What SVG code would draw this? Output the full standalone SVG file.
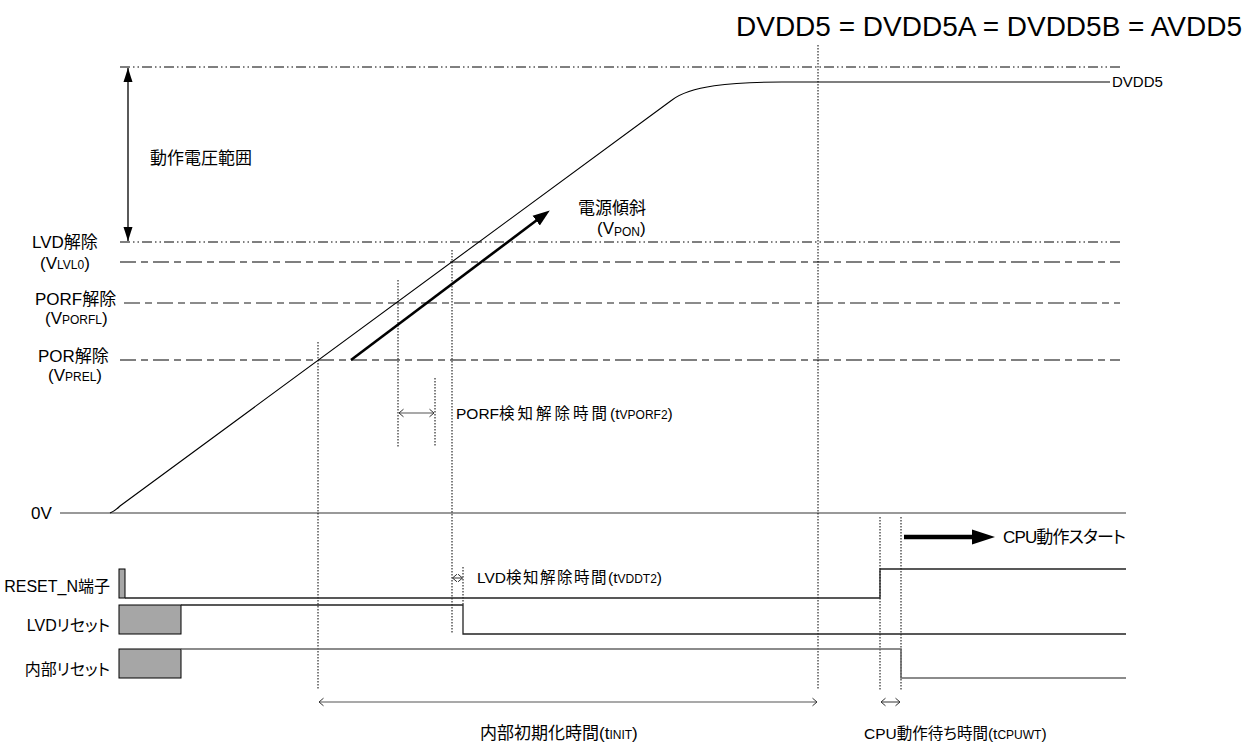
<svg xmlns="http://www.w3.org/2000/svg" width="1246" height="743" viewBox="0 0 1246 743">
<style>
text{font-family:"Liberation Sans","Noto Sans CJK JP",sans-serif;fill:#000;font-feature-settings:"palt"}
.lbl{font-size:17px}
.tl{font-size:15.5px}
.sg{font-size:16px}
.sub{font-size:12px}
.dd{fill:none;stroke:#000;stroke-width:1;stroke-dasharray:10 3 1.5 3 1.5 3}
.ld{fill:none;stroke:#000;stroke-width:1.2;stroke-dasharray:16 5 7 5}
.ldg{fill:none;stroke:#666;stroke-width:1.6;stroke-dasharray:16 5 7 5}
.dot{fill:none;stroke:#000;stroke-width:1;stroke-dasharray:1.5 1.5}
.sig{fill:none;stroke:#222;stroke-width:1.3}
.sigg{fill:none;stroke:#666;stroke-width:1.6}
.blk{fill:#a6a6a6;stroke:#000;stroke-width:1}
.dim{fill:none;stroke:#555;stroke-width:1.2;marker-start:url(#oa);marker-end:url(#oa)}
</style>
<defs>
<marker id="oa" viewBox="-6 -5 7 10" markerWidth="7" markerHeight="10" refX="0" refY="0" orient="auto-start-reverse" markerUnits="userSpaceOnUse">
<path d="M-4.5,-3.8 L0,0 L-4.5,3.8" fill="none" stroke="#333" stroke-width="1"/>
</marker>
<marker id="fa" viewBox="-14 -5 14 10" markerWidth="14" markerHeight="10" refX="0" refY="0" orient="auto-start-reverse" markerUnits="userSpaceOnUse">
<path d="M-14,-4.5 L0,0 L-14,4.5 Z" fill="#000"/>
</marker>
<marker id="fs" viewBox="0 -7 17 14" markerWidth="17" markerHeight="14" refX="1" refY="0" orient="auto" markerUnits="userSpaceOnUse">
<path d="M0,-6 L17,0 L0,6 Z" fill="#000"/>
</marker>
<marker id="fb" viewBox="0 -8 23 16" markerWidth="23" markerHeight="16" refX="1" refY="0" orient="auto" markerUnits="userSpaceOnUse">
<path d="M0,-7.5 L23,0 L0,7.5 Z" fill="#000"/>
</marker>
</defs>

<text x="1242" y="36" font-size="28" text-anchor="end">DVDD5 = DVDD5A = DVDD5B = AVDD5</text>

<g id="levels">
<path class="dd" d="M120,67 H1120"/>
<path class="dd" d="M120,242 H1120"/>
<path class="ld" d="M120,262 H1120"/>
<path class="ldg" d="M124,303 H1120"/>
<path class="ld" d="M120,360 H1120"/>
<path d="M60,513 H1126" fill="none" stroke="#777" stroke-width="1.6"/>
</g>

<g id="labels-left">
<text class="lbl" x="32" y="248">LVD解除</text>
<text class="lbl" x="40" y="269">(V<tspan class="sub">LVL0</tspan>)</text>
<text class="lbl" x="35" y="305">PORF解除</text>
<text class="lbl" x="45" y="324">(V<tspan class="sub">PORFL</tspan>)</text>
<text class="lbl" x="38" y="362">POR解除</text>
<text class="lbl" x="48" y="381">(V<tspan class="sub">PREL</tspan>)</text>
<text class="lbl" x="31" y="519">0V</text>
<text class="lbl" x="150" y="164">動作電圧範囲</text>
</g>

<g id="dvdd5">
<path d="M110,513 Q115,511 120,506 L672,100 C690,86 730,82 782,82 L1110,82" fill="none" stroke="#000" stroke-width="1.1"/>
<text x="1112" y="87" font-size="15">DVDD5</text>
</g>

<g id="range-arrow">
<path d="M128,68 V241" fill="none" stroke="#000" stroke-width="1.3" marker-start="url(#fa)" marker-end="url(#fa)"/>
</g>

<g id="slope">
<path d="M351,360 L537,220" fill="none" stroke="#000" stroke-width="2.6" marker-end="url(#fs)"/>
<text class="lbl" x="578" y="214">電源傾斜</text>
<text class="lbl" x="597" y="234">(V<tspan class="sub" dy="2">PON</tspan><tspan dy="-2">)</tspan></text>
</g>

<g id="connectors">
<path class="dot" d="M318,342 V690"/>
<path class="dot" d="M398,280 V447"/>
<path class="dot" d="M435,378 V447"/>
<path class="dot" d="M452,250 V633"/>
<path class="dot" d="M463,567 V605"/>
<path class="dot" d="M818,45 V690"/>
<path class="dot" d="M880,517 V690"/>
<path class="dot" d="M901,517 V690"/>
<path class="dim" d="M399,413 H434"/>
<path class="dim" d="M452.5,578 H462.5"/>
<path class="dim" d="M319,702 H817"/>
<path class="dim" d="M881,702 H900"/>
<path d="M904,537 H973" fill="none" stroke="#000" stroke-width="4.5" marker-end="url(#fb)"/>
</g>

<g id="timing-labels">
<text class="tl" x="456" y="419">PORF<tspan letter-spacing="3">検知解除時間</tspan>(t<tspan class="sub">VPORF2</tspan>)</text>
<text class="tl" x="477" y="583">LVD<tspan letter-spacing="1.5">検知解除時間</tspan>(t<tspan class="sub">VDDT2</tspan>)</text>
<text class="lbl" x="480" y="739">内部初期化時間(t<tspan class="sub">INIT</tspan>)</text>
<text class="tl" x="864" y="739">CPU動作待ち時間(t<tspan class="sub">CPUWT</tspan>)</text>
<text class="lbl" x="1003" y="543" textLength="123" lengthAdjust="spacing">CPU動作スタート</text>
</g>

<g id="reset-n">
<text class="sg" x="110" y="592" text-anchor="end">RESET_N端子</text>
<rect class="blk" x="119" y="569" width="6" height="29"/>
<path class="sig" d="M125,598 H880 V569 H1126"/>
</g>

<g id="lvd-reset">
<text class="sg" x="110" y="631" text-anchor="end">LVDリセット</text>
<rect class="blk" x="119" y="605" width="62" height="29"/>
<path class="sig" d="M181,605 H463 V634 H1126"/>
</g>

<g id="internal-reset">
<text class="sg" x="110" y="675" text-anchor="end">内部リセット</text>
<rect class="blk" x="119" y="649" width="62" height="29"/>
<path class="sigg" d="M181,649 H901 V678 H1126"/>
</g>
</svg>
